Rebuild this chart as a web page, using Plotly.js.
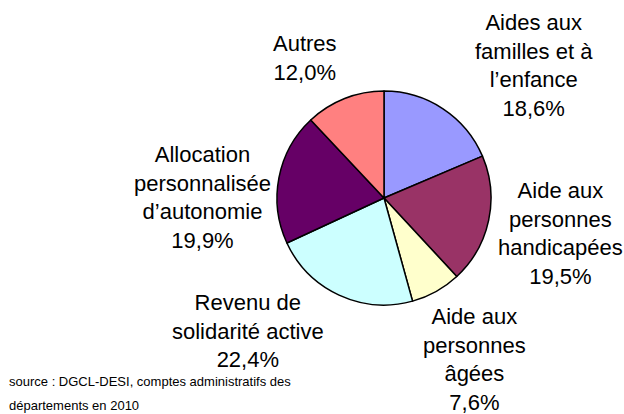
<!DOCTYPE html>
<html>
<head>
<meta charset="utf-8">
<script src="https://cdn.plot.ly/plotly-3.0.1.min.js"></script>
<style>
  html, body { margin: 0; padding: 0; background: #fff; }
  #chart { width: 624px; height: 414px; }
</style>
</head>
<body>
<div id="chart"></div>
<script>
// parts des dépenses d'aide sociale (en %), dans l'ordre du camembert
var categories = [
  'Aides aux<br>familles et à<br>l’enfance',
  'Aide aux<br>personnes<br>handicapées',
  'Aide aux<br>personnes<br>âgées',
  'Revenu de<br>solidarité active',
  'Allocation<br>personnalisée<br>d’autonomie',
  'Autres'
];
var parts = [18.6, 19.5, 7.6, 22.4, 19.9, 12.0];
var couleurs = ['#9999FF', '#993366', '#FFFFCC', '#CCFFFF', '#660066', '#FF8080'];
var source = [
  'source : DGCL-DESI, comptes administratifs des',
  'départements en 2010'
];

var W = 624, H = 414;
// position (pixels) du centre de chaque étiquette
var posEtiquettes = [[534, 65], [560, 234], [474, 359], [248, 331], [202, 197], [305, 58]];

function px(x) { return x / W; }
function py(y) { return 1 - y / H; }

var annotations = [];
categories.forEach(function(cat, i) {
  annotations.push({
    xref: 'paper', yref: 'paper',
    x: px(posEtiquettes[i][0]), y: py(posEtiquettes[i][1]),
    xanchor: 'center', yanchor: 'middle',
    text: cat + '<br>' + parts[i].toFixed(1).replace('.', ',') + '%',
    showarrow: false,
    align: 'center',
    font: { family: 'Liberation Sans, Arial, sans-serif', size: 22, color: '#000' }
  });
});
source.forEach(function(s, i) {
  annotations.push({
    xref: 'paper', yref: 'paper',
    x: px(7), y: py(381 + i * 24),
    xanchor: 'left', yanchor: 'middle',
    text: s, showarrow: false,
    font: { family: 'Liberation Sans, Arial, sans-serif', size: 13, color: '#000' }
  });
});

var cx = 384, cy = 198, r = 107;
var trace = {
  type: 'pie',
  labels: categories,
  values: parts,
  sort: false,
  direction: 'clockwise',
  rotation: 0,
  textinfo: 'none',
  hoverinfo: 'label+percent',
  marker: { colors: couleurs, line: { color: '#000', width: 1.5 } },
  domain: { x: [px(cx - r), px(cx + r)], y: [py(cy + r), py(cy - r)] },
  showlegend: false
};

Plotly.newPlot('chart', [trace], {
  width: W, height: H,
  margin: { l: 0, r: 0, t: 0, b: 0 },
  paper_bgcolor: '#fff',
  plot_bgcolor: '#fff',
  showlegend: false,
  annotations: annotations
}, { displayModeBar: false, staticPlot: true });
</script>
</body>
</html>
